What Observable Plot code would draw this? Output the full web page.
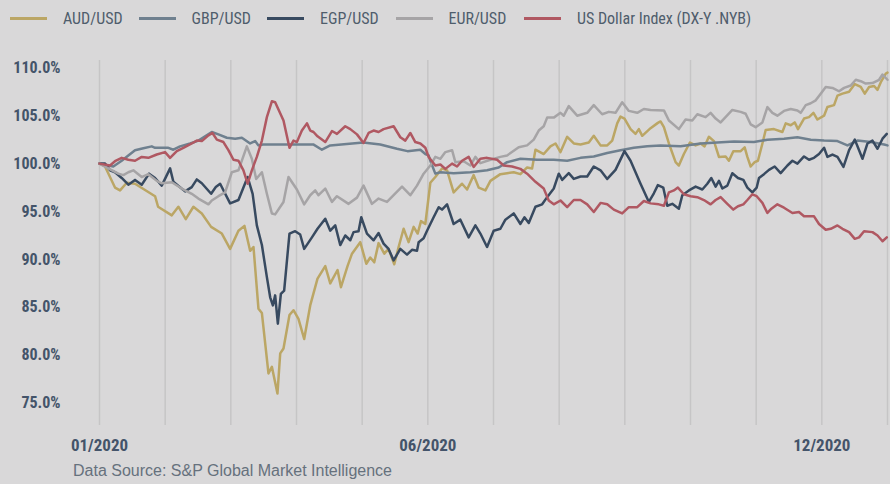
<!DOCTYPE html>
<html>
<head>
<meta charset="utf-8">
<script src="https://cdn.jsdelivr.net/npm/d3@7"></script>
<script src="https://cdn.jsdelivr.net/npm/@observablehq/plot@0.6"></script>
<style>
  html, body { margin: 0; padding: 0; background: #d9d8d9; }
  body { width: 890px; height: 484px; overflow: hidden; font-family: "Roboto Condensed", "Roboto", sans-serif; font-stretch: 75%; }
  #legend { height: 36px; display: flex; align-items: center; padding-left: 10px; box-sizing: border-box; }
  .item { display: flex; align-items: center; flex: none; width: 128.5px; }
  .item:last-child { width: auto; }
  .sw { display: inline-block; width: 37px; height: 3px; margin-right: 16px; flex: none; }
  .lab { font-size: 16px; color: #4f5d6c; white-space: nowrap; }
  #chart svg { display: block; }
  #caption { padding: 5px 0 0 73px; font-family: "Liberation Sans", Arial, sans-serif; font-stretch: normal; font-size: 16px; line-height: 20px; color: #66717d; }
</style>
</head>
<body>
<div id="legend"></div>
<div id="chart"></div>
<div id="caption">Data Source: S&amp;P Global Market Intelligence</div>
<script>
// x = position in months from 1 Jan 2020 (0 = 01/2020, 11 = 12/2020, 12 = end of Dec)
const seriesNames = ["AUD/USD", "GBP/USD", "EGP/USD", "EUR/USD", "US Dollar Index (DX-Y .NYB)"];
const seriesColors = ["#bba665", "#6f808f", "#384a60", "#a6a4a6", "#b05862"];

const AUD_USD = [[0,100],[0.084,99.7],[0.236,97.5],[0.313,97.2],[0.415,98.0],[0.541,97.9],[0.846,96.6],[0.892,95.5],[1.101,94.6],[1.201,95.5],[1.314,94.2],[1.43,95.5],[1.558,94.8],[1.7,93.4],[1.863,92.7],[1.989,91.1],[2.116,93.0],[2.207,93.5],[2.294,90.9],[2.345,91.3],[2.421,84.85],[2.473,84.4],[2.573,78.1],[2.625,78.8],[2.71,76.0],[2.752,80.2],[2.802,80.7],[2.893,84.2],[2.954,84.7],[3.03,83.8],[3.117,81.7],[3.209,85.2],[3.32,88.0],[3.438,89.3],[3.514,87.5],[3.625,88.9],[3.677,87.1],[3.777,89.3],[3.845,90.6],[3.971,91.8],[4.063,89.55],[4.123,90.2],[4.184,89.7],[4.25,91.7],[4.337,90.6],[4.402,91.1],[4.489,89.5],[4.555,91.3],[4.631,93.2],[4.707,91.8],[4.784,93.4],[4.845,92.7],[4.896,94.0],[4.962,93.7],[5.038,98.0],[5.114,98.6],[5.216,99.5],[5.293,99.3],[5.393,97.0],[5.521,97.9],[5.598,97.3],[5.698,98.8],[5.774,97.5],[5.877,97.2],[5.953,98.2],[6.105,98.9],[6.207,99.0],[6.308,99.1],[6.41,98.9],[6.512,99.6],[6.588,99.5],[6.639,101.45],[6.765,101.0],[6.867,101.8],[6.944,102.1],[7.02,101.2],[7.122,102.8],[7.223,102.1],[7.325,102.0],[7.451,102.2],[7.527,102.9],[7.63,101.9],[7.732,101.9],[7.808,102.4],[7.884,104.2],[7.934,104.9],[7.995,104.7],[8.087,103.6],[8.163,103.1],[8.213,103.6],[8.265,102.9],[8.392,103.7],[8.503,104.25],[8.544,104.4],[8.595,103.8],[8.671,102.1],[8.773,100.15],[8.823,99.8],[8.899,101.0],[8.991,102.2],[9.078,101.9],[9.154,102.1],[9.215,101.8],[9.28,102.8],[9.357,102.35],[9.433,100.7],[9.535,100.75],[9.585,100.3],[9.652,101.3],[9.764,101.3],[9.825,101.7],[9.866,100.7],[9.916,99.7],[9.977,100.15],[10.027,100.3],[10.095,102.1],[10.145,103.5],[10.271,103.6],[10.399,103.3],[10.45,104.2],[10.526,104.0],[10.587,104.3],[10.637,103.6],[10.729,104.7],[10.805,104.85],[10.872,105.3],[10.933,104.6],[11.034,105.0],[11.085,105.9],[11.186,106.1],[11.238,107.1],[11.314,107.3],[11.415,107.5],[11.502,108.3],[11.593,108.0],[11.654,107.3],[11.72,108.0],[11.796,108.1],[11.848,107.7],[11.898,108.5],[11.974,109.4],[12.0,109.5]];

const GBP_USD = [[0,100],[0.134,99.8],[0.21,99.7],[0.338,100.3],[0.439,100.85],[0.541,101.4],[0.668,101.6],[0.796,101.8],[0.846,101.65],[1.049,101.65],[1.125,101.45],[1.227,101.8],[1.38,102.1],[1.506,102.4],[1.608,102.85],[1.71,103.3],[1.811,103.05],[1.939,102.7],[2.066,102.6],[2.168,102.7],[2.294,102.1],[2.37,102.35],[2.421,101.9],[2.49,102.0],[3.056,102.0],[3.255,102.0],[3.387,101.45],[3.514,101.9],[4.017,102.2],[4.276,102.0],[4.53,101.55],[4.69,101.3],[4.886,101.45],[4.962,101.0],[5.012,100.85],[5.038,100.3],[5.114,98.95],[5.191,99.1],[5.393,99.0],[5.648,99.1],[5.902,99.3],[6.079,99.6],[6.207,100.15],[6.41,100.5],[6.665,100.4],[6.918,100.4],[7.122,100.3],[7.325,100.6],[7.527,100.75],[7.732,101.1],[7.934,101.4],[8.137,101.65],[8.341,101.8],[8.544,101.9],[8.849,101.8],[9.154,102.1],[9.662,102.3],[9.966,102.25],[10.171,102.5],[10.424,102.6],[10.628,102.75],[10.831,102.5],[11.034,102.4],[11.238,102.35],[11.39,101.9],[11.543,102.4],[11.745,102.25],[11.948,102.0],[12.0,101.9]];

const EGP_USD = [[0,100],[0.084,100.0],[0.16,99.3],[0.236,99.1],[0.338,98.5],[0.439,97.8],[0.541,98.3],[0.643,97.8],[0.755,98.95],[0.846,98.5],[0.948,97.7],[1.075,99.5],[1.125,98.1],[1.303,97.1],[1.405,97.55],[1.482,98.35],[1.558,97.95],[1.7,96.85],[1.771,97.55],[1.837,97.9],[1.989,95.85],[2.116,96.2],[2.256,98.6],[2.332,96.85],[2.396,93.55],[2.473,91.5],[2.549,88.15],[2.599,86.05],[2.64,85.2],[2.675,86.25],[2.716,83.3],[2.762,86.4],[2.812,86.75],[2.893,92.7],[2.98,92.95],[3.056,92.6],[3.117,91.1],[3.235,92.3],[3.32,93.2],[3.438,94.25],[3.514,93.0],[3.59,93.55],[3.666,91.5],[3.742,92.5],[3.819,92.0],[3.869,92.85],[3.945,92.95],[3.986,94.4],[4.073,92.7],[4.174,92.0],[4.25,92.75],[4.326,91.65],[4.402,91.1],[4.479,89.9],[4.581,91.1],[4.683,90.5],[4.759,91.0],[4.835,90.9],[4.86,91.8],[4.936,92.2],[4.988,93.0],[5.088,94.4],[5.165,95.45],[5.216,95.2],[5.293,95.75],[5.393,93.7],[5.495,94.15],[5.622,92.3],[5.724,93.55],[5.8,92.7],[5.902,91.3],[6.003,93.0],[6.105,93.2],[6.181,94.15],[6.308,94.8],[6.41,93.7],[6.471,94.4],[6.537,93.8],[6.639,95.5],[6.741,95.75],[6.817,96.5],[6.918,97.4],[6.994,98.95],[7.046,98.3],[7.146,99.0],[7.223,98.4],[7.325,98.65],[7.427,98.65],[7.527,99.7],[7.63,99.3],[7.732,98.4],[7.858,99.35],[7.995,101.3],[8.087,100.3],[8.239,97.9],[8.366,96.0],[8.442,96.9],[8.503,97.75],[8.585,97.5],[8.646,95.6],[8.723,95.8],[8.823,95.3],[8.875,96.7],[8.976,97.2],[9.078,97.6],[9.18,97.3],[9.256,97.9],[9.317,98.5],[9.383,97.6],[9.433,98.2],[9.485,97.4],[9.561,97.7],[9.637,99.0],[9.723,98.5],[9.805,98.3],[9.866,97.5],[9.942,97.0],[10.008,97.5],[10.043,98.5],[10.119,98.9],[10.195,99.35],[10.282,99.7],[10.373,99.0],[10.476,99.8],[10.552,100.3],[10.628,100.0],[10.729,100.75],[10.805,100.4],[10.881,100.6],[10.957,101.0],[11.034,101.65],[11.085,100.7],[11.162,100.95],[11.238,100.7],[11.329,99.65],[11.415,101.4],[11.502,102.5],[11.552,101.65],[11.619,100.5],[11.695,102.1],[11.771,102.4],[11.848,101.55],[11.924,102.6],[11.989,103.1]];

const EUR_USD = [[0,100],[0.134,99.5],[0.287,98.95],[0.363,98.8],[0.439,99.1],[0.515,99.3],[0.643,98.6],[0.744,98.9],[0.872,98.2],[0.948,97.95],[1.101,98.05],[1.253,97.4],[1.405,96.85],[1.506,96.35],[1.659,95.75],[1.71,96.15],[1.811,96.6],[1.913,97.0],[2.015,99.1],[2.116,99.3],[2.177,100.5],[2.244,101.8],[2.32,100.5],[2.386,98.4],[2.473,99.1],[2.549,96.85],[2.625,94.8],[2.675,94.7],[2.802,96.0],[2.878,98.6],[3.006,97.3],[3.117,95.75],[3.209,96.7],[3.285,97.2],[3.335,96.7],[3.438,97.4],[3.54,96.0],[3.616,96.6],[3.793,95.8],[3.921,96.45],[4.021,97.7],[4.149,95.8],[4.25,96.35],[4.378,96.0],[4.479,96.7],[4.607,97.6],[4.733,96.7],[4.835,97.7],[4.936,98.95],[5.038,99.8],[5.114,100.7],[5.191,100.5],[5.267,101.2],[5.369,101.4],[5.419,100.15],[5.546,100.25],[5.648,99.8],[5.724,100.7],[5.8,100.05],[5.953,100.4],[6.105,100.7],[6.207,100.85],[6.384,101.7],[6.512,101.9],[6.613,102.5],[6.689,103.45],[6.765,103.9],[6.817,104.8],[6.918,104.8],[7.02,105.3],[7.07,105.0],[7.146,106.0],[7.274,105.0],[7.427,105.3],[7.527,106.1],[7.655,105.15],[7.756,105.4],[7.858,105.3],[7.96,106.4],[8.061,105.5],[8.189,105.3],[8.29,105.7],[8.392,105.6],[8.595,105.55],[8.671,104.5],[8.823,103.6],[8.925,104.6],[9.027,104.5],[9.104,105.15],[9.23,104.85],[9.306,105.3],[9.383,104.7],[9.459,104.3],[9.637,105.6],[9.764,105.4],[9.84,105.2],[9.916,104.1],[9.992,103.8],[10.095,104.3],[10.171,105.9],[10.247,105.3],[10.323,105.0],[10.424,105.5],[10.526,105.7],[10.628,105.55],[10.678,105.3],[10.755,106.1],[10.831,106.3],[10.907,106.6],[10.983,107.3],[11.059,108.0],[11.162,107.9],[11.262,107.55],[11.339,107.9],[11.44,108.15],[11.517,108.75],[11.593,108.6],[11.669,108.35],[11.771,108.4],[11.872,108.75],[11.924,109.3],[12.0,108.75]];

const USD_INDEX = [[0,100],[0.16,99.8],[0.236,100.25],[0.338,100.6],[0.439,100.4],[0.541,100.3],[0.643,100.7],[0.744,100.6],[0.872,100.95],[0.998,101.2],[1.075,100.6],[1.177,101.3],[1.277,101.65],[1.405,102.1],[1.482,102.4],[1.558,102.35],[1.659,102.95],[1.72,103.2],[1.787,102.5],[1.887,102.25],[1.963,101.4],[2.04,100.4],[2.116,100.3],[2.192,99.3],[2.256,97.9],[2.32,99.3],[2.396,100.7],[2.473,102.4],[2.549,104.85],[2.625,106.5],[2.675,106.4],[2.802,104.5],[2.893,101.65],[2.954,102.4],[3.006,102.25],[3.082,103.45],[3.159,104.2],[3.209,103.45],[3.259,103.3],[3.32,102.85],[3.438,102.25],[3.54,103.4],[3.616,103.1],[3.742,103.9],[3.819,103.6],[3.921,103.05],[4.021,102.15],[4.098,103.2],[4.174,103.45],[4.25,103.3],[4.326,103.6],[4.479,103.9],[4.581,102.75],[4.657,102.4],[4.733,103.2],[4.809,102.25],[4.886,102.1],[4.962,101.65],[5.012,100.7],[5.114,99.8],[5.191,99.9],[5.267,99.45],[5.369,100.0],[5.445,99.7],[5.521,100.3],[5.622,100.7],[5.698,99.65],[5.8,100.5],[5.902,100.6],[6.055,100.4],[6.155,99.8],[6.283,99.7],[6.41,99.45],[6.512,98.95],[6.639,98.1],[6.765,97.4],[6.841,96.15],[6.918,95.75],[7.02,96.15],[7.122,95.45],[7.223,96.2],[7.325,96.2],[7.427,95.75],[7.527,94.95],[7.63,95.9],[7.732,95.75],[7.832,95.2],[7.96,94.8],[8.061,95.45],[8.189,95.45],[8.29,96.1],[8.392,95.85],[8.518,95.75],[8.595,95.6],[8.671,97.0],[8.747,97.2],[8.808,97.5],[8.899,96.8],[9.002,96.6],[9.104,96.5],[9.204,96.2],[9.306,95.75],[9.383,96.2],[9.459,96.5],[9.561,95.8],[9.652,95.2],[9.723,95.55],[9.805,95.75],[9.866,96.2],[9.942,96.8],[10.008,96.6],[10.095,95.9],[10.171,94.85],[10.232,95.3],[10.323,95.75],[10.424,95.4],[10.552,94.85],[10.652,94.95],[10.729,94.5],[10.881,94.5],[10.957,93.7],[11.059,93.1],[11.136,93.2],[11.238,93.55],[11.314,93.2],[11.415,92.85],[11.502,92.15],[11.567,92.3],[11.643,92.95],[11.771,92.85],[11.848,92.5],[11.924,91.9],[11.989,92.3]];

const monthGrid = [0,1,2,3,4,5,6,7,8,9,10,11,12];
const xTickPositions = [0, 5, 11];
const xTickLabels = ["01/2020", "06/2020", "12/2020"];
const yTicks = [75, 80, 85, 90, 95, 100, 105, 110];

const allSeries = [AUD_USD, GBP_USD, EGP_USD, EUR_USD, USD_INDEX];
const table = allSeries.flatMap((arr, i) => arr.map(([t, v]) => ({series: seriesNames[i], t, v})));

// legend
const legend = document.getElementById("legend");
seriesNames.forEach((name, i) => {
  const it = document.createElement("div");
  it.className = "item";
  const sw = document.createElement("span");
  sw.className = "sw";
  sw.style.background = seriesColors[i];
  const lab = document.createElement("span");
  lab.className = "lab";
  lab.textContent = name;
  it.appendChild(sw); it.appendChild(lab);
  legend.appendChild(it);
});

const tickLabel = new Map(xTickPositions.map((p, i) => [p, xTickLabels[i]]));
const axisFont = "'Roboto Condensed', Roboto, sans-serif";

const chart = Plot.plot({
  width: 890,
  height: 420,
  marginLeft: 99,
  marginRight: 3,
  marginTop: 24,
  marginBottom: 31,
  style: {background: "transparent", fontFamily: axisFont, fontStretch: "75%"},
  x: {domain: [0, 12]},
  y: {domain: [72.67, 110.76]},
  color: {domain: seriesNames, range: seriesColors},
  marks: [
    Plot.ruleX(monthGrid, {stroke: "#c6c5c6", strokeWidth: 1.5}),
    Plot.line(table, {x: "t", y: "v", z: "series", stroke: "series", strokeWidth: 2.5, strokeLinejoin: "round", strokeLinecap: "round"}),
    Plot.axisX({ticks: xTickPositions, tickFormat: d => tickLabel.get(d), tickSize: 0, tickPadding: 13, fontSize: 17, fontWeight: "bold", fill: "#44546a", label: null}),
    Plot.axisY({ticks: yTicks, tickFormat: d => d.toFixed(1) + "%", tickSize: 0, tickPadding: 39, fontSize: 16, fontWeight: "bold", fill: "#44546a", label: null})
  ]
});
document.getElementById("chart").appendChild(chart);
</script>
</body>
</html>
